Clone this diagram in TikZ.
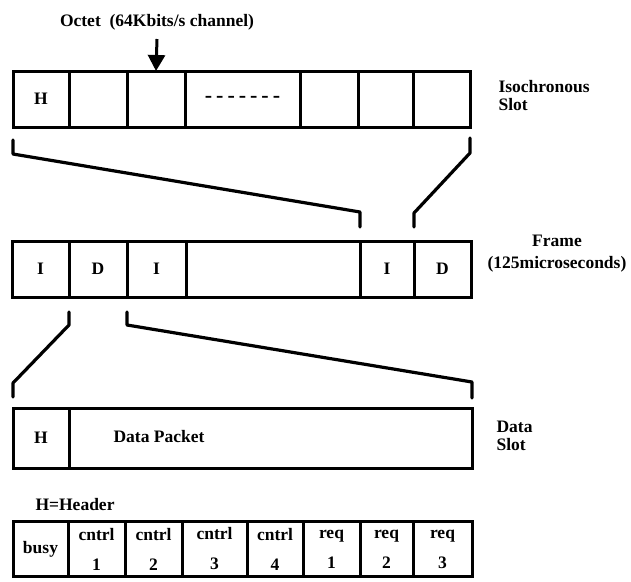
\documentclass[tikz,border=0pt]{standalone}
\usepackage{fontspec}
\setmainfont{Liberation Serif}
\usetikzlibrary{arrows.meta}

\newcommand{\slotdots}{-\kern4pt-\kern4pt-\kern4pt-\kern4pt-\kern4pt-\kern4pt-}

\tikzset{
  cell/.style={draw, line width=3pt, outer sep=0pt, inner sep=0pt, anchor=west,
    minimum height=56, align=center},
  brk/.style={line width=3.2pt, line join=round, line cap=round},
  ptr/.style={line width=3pt, -{Triangle[width=17pt,length=16pt]}},
  side/.style={anchor=west, align=left},
}

\begin{document}
\begin{tikzpicture}[x=1pt,y=-1pt,font=\bfseries\fontsize{17.5}{18}\selectfont]
    \useasboundingbox (0,0) rectangle (631,581);
    % isochronous slot
    \foreach \x/\w/\t [count=\k] in {13/56/H,69/58/{},127/58/{},185/115/{\fontsize{22}{22}\selectfont\slotdots},300/58/{},358/55/{},413/57/{}}
        \node[cell,minimum width=\w] (i\k) at (\x,99) {\t};
    \node (octet) at (157,22) {Octet\ \ (64Kbits/s channel)};
    \coordinate (octtop) at (157,39);
    \draw[ptr] (octtop) -- (i3.north);
    \node[side] (isolbl) at (495,96) {Isochronous\\Slot};
    % frame
    \foreach \x/\w/\t [count=\k] in {12/57/I,69/58/D,127/59/I,186/174/{},360/54/I,414/57/D}
        \node[cell,minimum width=\w] (f\k) at (\x,269) {\t};
    \node[align=center] (framelbl) at (557,254) {Frame\\[4pt](125microseconds)};
    \draw[brk] ([yshift=-13pt]i1.south west) -- ([yshift=-27pt]i1.south west)
        -- ([yshift=29pt]f5.north west) -- ([yshift=14pt]f5.north west);
    \draw[brk] ([yshift=-11pt]i7.south east) -- ([yshift=-26pt]i7.south east)
        -- ([yshift=28pt]f5.north east) -- ([yshift=14pt]f5.north east);
    % data slot
    \node[cell,minimum width=56,minimum height=60] (d1) at (13,438) {H};
    \node[cell,minimum width=403,minimum height=60] (d2) at (69,438) {};
    \node (dpkt) at (159,437) {Data Packet};
    \node[side] (datalbl) at (493,436) {Data\\Slot};
    \draw[brk] ([yshift=-15pt]f1.south east) -- ([yshift=-28pt]f1.south east)
        -- ([yshift=25pt]d1.north west) -- ([yshift=11pt]d1.north west);
    \draw[brk] ([yshift=-15pt]f2.south east) -- ([yshift=-28pt]f2.south east)
        -- ([yshift=26pt]d2.north east) -- ([yshift=10pt]d2.north east);
    % header fields
    \node[anchor=west] (hdrlbl) at (32,505) {H=Header};
    \foreach \x/\w/\t [count=\k] in {13/55/busy,68/57/{cntrl\\[12pt]1},125/57/{cntrl\\[12pt]2},182/65/{cntrl\\[12pt]3},247/56/{cntrl\\[12pt]4},303/57/{req\\[12pt]1},360/53/{req\\[12pt]2},413/59/{req\\[12pt]3}}
        \node[cell,minimum width=\w,minimum height=55] (b\k) at (\x,549) {\t};
\end{tikzpicture}
\end{document}
